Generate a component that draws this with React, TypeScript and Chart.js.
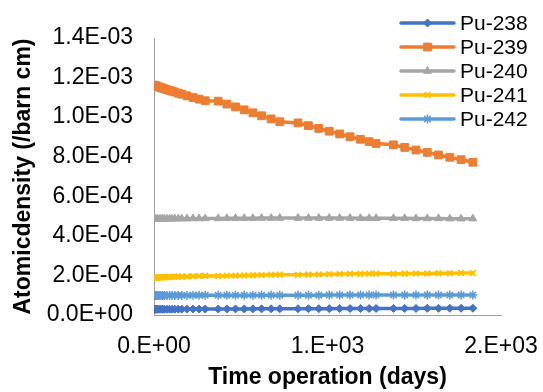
import React, { useEffect, useRef } from 'react';
import { Chart, registerables } from 'chart.js';
import { drawPoint } from 'chart.js/helpers';

Chart.register(...registerables);

const FONT = '"Liberation Sans", Arial, Helvetica, sans-serif';

const seriesNames = ['Pu-238', 'Pu-239', 'Pu-240', 'Pu-241', 'Pu-242'];
const seriesColors = ['#4472C4', '#ED7D31', '#A5A5A5', '#FFC000', '#5B9BD5'];

// Time operation (days)
const days = [
  0, 5, 10, 15, 20, 30, 40, 50, 60, 75, 90, 105, 120, 140, 160, 190, 225, 260, 295,
  370, 420, 470, 520, 570, 620, 675, 725,
  830, 890, 950, 1010, 1070, 1130, 1190, 1240, 1280,
  1380, 1445, 1510, 1575, 1640, 1705, 1770, 1838,
];

const pu238 = [
  2.90e-5, 2.90e-5, 2.90e-5, 2.91e-5, 2.91e-5, 2.91e-5, 2.92e-5, 2.92e-5, 2.92e-5, 2.93e-5, 2.94e-5, 2.94e-5, 2.95e-5, 2.96e-5, 2.96e-5, 2.98e-5, 2.99e-5, 3.00e-5, 3.02e-5,
  3.03e-5, 3.05e-5, 3.07e-5, 3.08e-5, 3.10e-5, 3.12e-5, 3.13e-5, 3.15e-5,
  3.17e-5, 3.19e-5, 3.21e-5, 3.22e-5, 3.24e-5, 3.26e-5, 3.27e-5, 3.29e-5, 3.30e-5,
  3.31e-5, 3.33e-5, 3.34e-5, 3.35e-5, 3.36e-5, 3.38e-5, 3.39e-5, 3.40e-5,
];

const pu239 = [
  1.162e-3, 1.160e-3, 1.158e-3, 1.157e-3, 1.155e-3, 1.152e-3, 1.149e-3, 1.146e-3, 1.143e-3, 1.139e-3, 1.135e-3, 1.131e-3, 1.127e-3, 1.121e-3, 1.116e-3, 1.108e-3, 1.099e-3, 1.091e-3, 1.083e-3,
  1.081e-3, 1.066e-3, 1.052e-3, 1.037e-3, 1.022e-3, 1.007e-3, 0.991e-3, 0.977e-3,
  0.971e-3, 0.957e-3, 0.943e-3, 0.929e-3, 0.915e-3, 0.901e-3, 0.888e-3, 0.876e-3, 0.867e-3,
  0.860e-3, 0.847e-3, 0.834e-3, 0.822e-3, 0.809e-3, 0.797e-3, 0.785e-3, 0.772e-3,
];

const pu240 = [
  4.84e-4, 4.84e-4, 4.84e-4, 4.84e-4, 4.85e-4, 4.85e-4, 4.85e-4, 4.85e-4, 4.86e-4, 4.86e-4, 4.86e-4, 4.86e-4, 4.87e-4, 4.87e-4, 4.87e-4, 4.87e-4, 4.88e-4, 4.88e-4, 4.88e-4,
  4.88e-4, 4.89e-4, 4.89e-4, 4.89e-4, 4.89e-4, 4.90e-4, 4.90e-4, 4.90e-4,
  4.90e-4, 4.90e-4, 4.90e-4, 4.90e-4, 4.90e-4, 4.90e-4, 4.89e-4, 4.89e-4, 4.89e-4,
  4.89e-4, 4.89e-4, 4.88e-4, 4.88e-4, 4.88e-4, 4.87e-4, 4.87e-4, 4.87e-4,
];

const pu241 = [
  1.88e-4, 1.88e-4, 1.89e-4, 1.89e-4, 1.89e-4, 1.90e-4, 1.90e-4, 1.91e-4, 1.91e-4, 1.92e-4, 1.92e-4, 1.93e-4, 1.93e-4, 1.94e-4, 1.94e-4, 1.95e-4, 1.96e-4, 1.97e-4, 1.98e-4,
  1.97e-4, 1.98e-4, 1.99e-4, 2.00e-4, 2.01e-4, 2.02e-4, 2.03e-4, 2.04e-4,
  2.03e-4, 2.04e-4, 2.05e-4, 2.06e-4, 2.07e-4, 2.08e-4, 2.08e-4, 2.09e-4, 2.09e-4,
  2.08e-4, 2.09e-4, 2.10e-4, 2.10e-4, 2.11e-4, 2.11e-4, 2.12e-4, 2.12e-4,
];

const pu242 = [
  0.99e-4, 0.99e-4, 0.99e-4, 0.99e-4, 0.99e-4, 0.99e-4, 0.99e-4, 0.99e-4, 0.99e-4, 0.99e-4, 0.99e-4, 0.99e-4, 0.99e-4, 0.99e-4, 0.99e-4, 0.99e-4, 1.00e-4, 1.00e-4, 1.00e-4,
  1.00e-4, 1.00e-4, 1.00e-4, 1.00e-4, 1.00e-4, 1.00e-4, 1.00e-4, 1.00e-4,
  1.00e-4, 1.00e-4, 1.00e-4, 1.01e-4, 1.01e-4, 1.01e-4, 1.01e-4, 1.01e-4, 1.01e-4,
  1.01e-4, 1.01e-4, 1.01e-4, 1.01e-4, 1.01e-4, 1.01e-4, 1.01e-4, 1.01e-4,
];

const seriesValues = [pu238, pu239, pu240, pu241, pu242];

const xTickValues = [0, 1000, 2000];
const xTickLabels = ['0.E+00', '1.E+03', '2.E+03'];
const yTickValues = [0, 2e-4, 4e-4, 6e-4, 8e-4, 1.0e-3, 1.2e-3, 1.4e-3];
const yTickLabels = ['0.0E+00', '2.0E-04', '4.0E-04', '6.0E-04', '8.0E-04', '1.0E-03', '1.2E-03', '1.4E-03'];

const pointStyles = ['rectRot', 'rect', 'triangle', 'crossRot', 'star'];
const pointRadii = [4, 5.5, 4.5, 4, 4.5];
const pointBorderWidths = [1, 1, 1, 2, 1.5];

const legendPlugin = {
  id: 'excelLegend',
  afterDraw(chart: any) {
    const { ctx, chartArea } = chart;
    ctx.save();
    chart.data.datasets.forEach((ds: any, i: number) => {
      const y = chartArea.top - 15 + i * 24;
      const x0 = chartArea.right - 100;
      const x1 = x0 + 53;
      ctx.strokeStyle = ds.borderColor;
      ctx.lineWidth = 3.5;
      ctx.lineCap = 'round';
      ctx.beginPath();
      ctx.moveTo(x0, y);
      ctx.lineTo(x1, y);
      ctx.stroke();
      ctx.lineCap = 'butt';
      ctx.fillStyle = ds.pointBackgroundColor;
      ctx.strokeStyle = ds.pointBorderColor;
      ctx.lineWidth = ds.pointBorderWidth;
      drawPoint(ctx, { pointStyle: ds.pointStyle, radius: ds.pointRadius, borderWidth: ds.pointBorderWidth, rotation: 0 } as any, (x0 + x1) / 2, y);
      ctx.fillStyle = '#000000';
      ctx.font = `21px ${FONT}`;
      ctx.textBaseline = 'middle';
      ctx.textAlign = 'left';
      ctx.fillText(ds.label, x1 + 6, y + 1);
    });
    ctx.restore();
  },
};

export default function App() {
  const canvasRef = useRef<HTMLCanvasElement | null>(null);

  useEffect(() => {
    document.body.style.margin = '0';
    const canvas = canvasRef.current;
    if (!canvas) return;
    const datasets = seriesNames.map((name, i) => ({
      label: name,
      data: days.map((d, j) => ({ x: d, y: seriesValues[i][j] })),
      borderColor: seriesColors[i],
      backgroundColor: seriesColors[i],
      borderWidth: 3.5,
      pointStyle: pointStyles[i],
      pointRadius: pointRadii[i],
      pointBorderWidth: pointBorderWidths[i],
      pointBackgroundColor: seriesColors[i],
      pointBorderColor: seriesColors[i],
      tension: 0,
      fill: false,
    }));

    const chart = new Chart(canvas, {
      type: 'line',
      data: { datasets },
      plugins: [legendPlugin],
      options: {
        animation: false,
        responsive: false,
        devicePixelRatio: 1,
        layout: { padding: { top: 38, right: 42, left: 0, bottom: 0 } },
        plugins: { legend: { display: false }, tooltip: { enabled: false } },
        scales: {
          x: {
            type: 'linear',
            min: 0,
            max: 2000,
            afterFit: (scale: any) => {
              scale.height = 77;
              scale.paddingLeft = 0;
              scale.paddingRight = 0;
            },
            afterBuildTicks: (scale: any) => { scale.ticks = xTickValues.map((v) => ({ value: v })); },
            grid: { display: false, drawTicks: false },
            border: { display: true, color: '#a0a0a0', width: 1 },
            ticks: {
              padding: 18,
              color: '#000000',
              font: { family: FONT, size: 23 },
              maxRotation: 0,
              callback: (v: any) => xTickLabels[xTickValues.indexOf(Number(v))] ?? '',
            },
            title: {
              display: true,
              text: 'Time operation (days)',
              color: '#000000',
              font: { family: FONT, size: 23, weight: 'bold' },
              padding: { top: 0, bottom: 1 },
            },
          },
          y: {
            type: 'linear',
            min: 0,
            max: 1.4e-3,
            afterFit: (scale: any) => {
              scale.width = 154;
              scale.paddingTop = 0;
              scale.paddingBottom = 0;
            },
            afterBuildTicks: (scale: any) => { scale.ticks = yTickValues.map((v) => ({ value: v })); },
            grid: { display: false, drawTicks: false },
            border: { display: true, color: '#a0a0a0', width: 1 },
            ticks: {
              padding: 21,
              color: '#000000',
              font: { family: FONT, size: 23 },
              callback: (v: any, idx: number) => yTickLabels[idx] ?? '',
            },
            title: {
              display: true,
              text: 'Atomicdensity (/barn cm)',
              color: '#000000',
              font: { family: FONT, size: 23, weight: 'bold' },
              padding: { top: 10, bottom: 0 },
            },
          },
        },
      } as any,
    });
    return () => chart.destroy();
  }, []);

  return (
    <div style={{ position: 'fixed', left: 0, top: 0, width: 543, height: 392, background: '#ffffff' }}>
      <canvas ref={canvasRef} width={543} height={392} style={{ width: 543, height: 392, display: 'block' }} />
    </div>
  );
}
